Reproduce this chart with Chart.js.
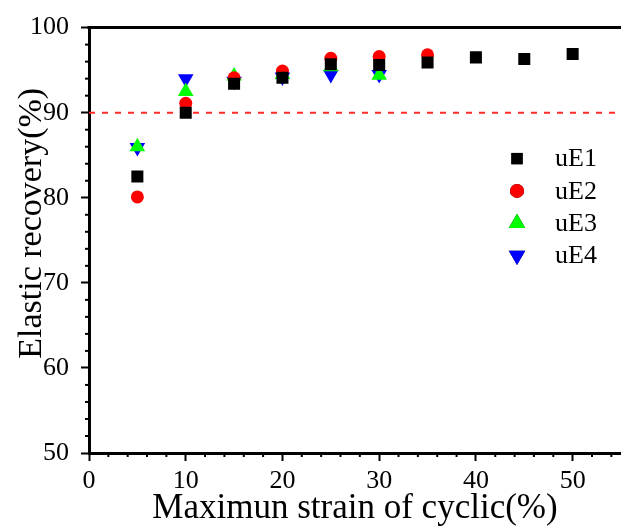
<!DOCTYPE html>
<html>
<head>
<meta charset="utf-8">
<script src="https://cdn.jsdelivr.net/npm/chart.js@4/dist/chart.umd.min.js"></script>
<style>
  html, body { margin: 0; padding: 0; background: #fff; overflow: hidden; }
  #wrap { width: 621px; height: 526px; overflow: hidden; }
</style>
</head>
<body>
<div id="wrap"><canvas id="c" width="630" height="526"></canvas></div>
<script>
// values
const strain = [5, 10, 15, 20, 25, 30, 35, 40, 45, 50];
const uE1 = [82.5, 90.0, 93.4, 94.1, 95.7, 95.6, 95.9, 96.5, 96.3, 96.9];
const uE2 = [80.1, 91.1, 94.1, 94.9, 96.4, 96.6, 96.8];
const uE3 = [86.0, 92.5, 94.3, 94.5, 95.4, 94.4];
const uE4 = [85.9, 94.0, 93.7, 94.2, 94.5, 94.5];
const refLevel = 90;
const xTicks = [0, 10, 20, 30, 40, 50];
const yTicks = [50, 60, 70, 80, 90, 100];

const serif = "'Liberation Serif', 'Times New Roman', serif";

const pts = (vals) => vals.map((v, i) => ({ x: strain[i], y: v }));

const series = [
  { label: "uE1", data: uE1, color: "#000000", style: "rect", radius: 8.5, rot: 0 },
  { label: "uE2", data: uE2, color: "#ff0000", style: "circle", radius: 6.5, rot: 0 },
  { label: "uE3", data: uE3, color: "#00ff00", style: "triangle", radius: 9, rot: 0 },
  { label: "uE4", data: uE4, color: "#0000ff", style: "triangle", radius: 9, rot: 180 }
];

const datasets = [{
  label: "ref",
  data: [{ x: 0, y: refLevel }, { x: 55, y: refLevel }],
  type: "line",
  borderColor: "#ff2a2a",
  borderWidth: 2,
  borderDash: [6, 7],
  pointRadius: 0,
  order: 10
}];
series.forEach(s => {
  datasets.push({
    label: s.label,
    data: pts(s.data),
    backgroundColor: s.color,
    borderColor: s.color,
    pointBorderWidth: 0,
    pointStyle: s.style,
    pointRadius: s.radius,
    pointRotation: s.rot
  });
});

// minor ticks, top frame line and in-plot legend
const extras = {
  id: "extras",
  afterDraw(chart) {
    const ctx = chart.ctx;
    const area = chart.chartArea;
    const xs = chart.scales.x, ys = chart.scales.y;
    ctx.save();
    ctx.strokeStyle = "#000";
    ctx.lineWidth = 2;
    for (let v = 0; v <= 55; v += 2) {
      if (v % 10 === 0) continue;
      const px = xs.getPixelForValue(v);
      ctx.beginPath();
      ctx.moveTo(px, area.bottom);
      ctx.lineTo(px, area.bottom + 4);
      ctx.stroke();
    }
    for (let v = 50; v <= 100; v += 2) {
      if (v % 10 === 0) continue;
      const py = ys.getPixelForValue(v);
      ctx.beginPath();
      ctx.moveTo(area.left, py);
      ctx.lineTo(area.left - 4, py);
      ctx.stroke();
    }
    // top frame
    ctx.lineWidth = 3;
    ctx.beginPath();
    ctx.moveTo(area.left - 1.5, area.top);
    ctx.lineTo(chart.width, area.top);
    ctx.stroke();

    // legend
    const lx = area.left + 428, ly = area.top + 131, gap = 32.3;
    ctx.font = "26px " + serif;
    ctx.textBaseline = "middle";
    series.forEach((s, i) => {
      const y = ly + i * gap;
      Chart.helpers.drawPoint(ctx, {
        pointStyle: s.style, radius: s.style === "rect" ? 8 : s.style === "circle" ? 7 : 9.5,
        rotation: s.rot, borderWidth: 0
      }, lx, y);
      ctx.fillStyle = s.color;
      ctx.fill();
      ctx.fillStyle = "#000";
      ctx.fillText(s.label, lx + 38, y + 1);
    });
    ctx.restore();
  }
};

new Chart(document.getElementById("c"), {
  type: "scatter",
  data: { datasets },
  options: {
    responsive: false,
    animation: false,
    layout: { padding: { top: 26, right: 4, left: 12, bottom: 0 } },
    plugins: { legend: { display: false }, tooltip: { enabled: false } },
    scales: {
      x: {
        type: "linear",
        min: 0, max: 55,
        afterBuildTicks: (sc) => { sc.ticks = xTicks.map(v => ({ value: v })); },
        afterFit: (sc) => { sc.height = 73; },
        ticks: { color: "#000", font: { family: serif, size: 26 }, padding: 5, maxRotation: 0 },
        grid: { drawOnChartArea: false, tickLength: 8, tickWidth: 2, tickColor: "#000" },
        border: { color: "#000", width: 3 },
        title: { display: true, text: "Maximun strain of cyclic(%)", color: "#000",
                 font: { family: serif, size: 35 }, padding: { top: 0, bottom: -4 } }
      },
      y: {
        type: "linear",
        min: 50, max: 100,
        afterBuildTicks: (sc) => { sc.ticks = yTicks.map(v => ({ value: v })); },
        afterFit: (sc) => { sc.width = 77; },
        ticks: { color: "#000", font: { family: serif, size: 26 }, padding: 12 },
        grid: { drawOnChartArea: false, tickLength: 8, tickWidth: 2, tickColor: "#000" },
        border: { color: "#000", width: 3 },
        title: { display: true, text: "    Elastic recovery(%)", color: "#000",
                 font: { family: serif, size: 34 }, padding: { top: 0, bottom: 0 } }
      }
    }
  },
  plugins: [extras]
});
</script>
</body>
</html>
